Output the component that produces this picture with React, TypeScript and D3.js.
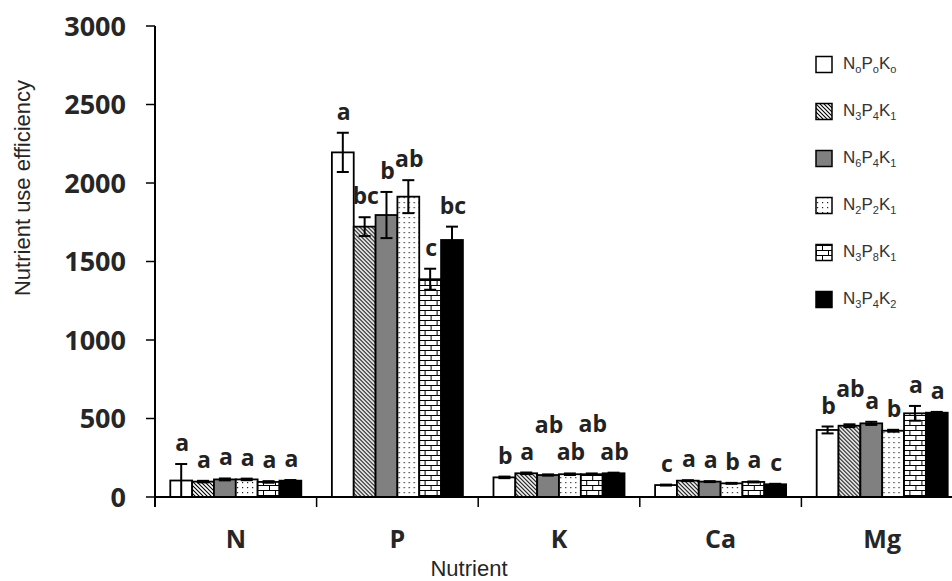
import React from 'react';
import * as d3 from 'd3';

const categories = ['N', 'P', 'K', 'Ca', 'Mg'];
const seriesKeys = ['N0P0K0', 'N3P4K1', 'N6P4K1', 'N2P2K1', 'N3P8K1', 'N3P4K2'];
const seriesLabels: [string, string][][] = [
  [['N', 'o'], ['P', 'o'], ['K', 'o']],
  [['N', '3'], ['P', '4'], ['K', '1']],
  [['N', '6'], ['P', '4'], ['K', '1']],
  [['N', '2'], ['P', '2'], ['K', '1']],
  [['N', '3'], ['P', '8'], ['K', '1']],
  [['N', '3'], ['P', '4'], ['K', '2']],
];
// mean values per category, in series order
const meanN = [105, 98, 112, 112, 96, 104];
const meanP = [2195, 1722, 1796, 1913, 1387, 1637];
const meanK = [125, 151, 140, 145, 145, 151];
const meanCa = [76, 104, 98, 87, 96, 81];
const meanMg = [427, 454, 469, 422, 533, 537];
// standard errors
const errN = [105, 5, 6, 5, 5, 4];
const errP = [125, 60, 147, 105, 67, 85];
const errK = [5, 5, 4, 5, 5, 4];
const errCa = [3, 3, 3, 3, 3, 3];
const errMg = [22, 9, 10, 6, 47, 5];
// significance letters
const letN = ['a', 'a', 'a', 'a', 'a', 'a'];
const letP = ['a', 'bc', 'b', 'ab', 'c', 'bc'];
const letK = ['b', 'a', 'ab', 'ab', 'ab', 'ab'];
const letCa = ['c', 'a', 'a', 'b', 'a', 'c'];
const letMg = ['b', 'ab', 'a', 'b', 'a', 'a'];
// stacking level of letters (to avoid collisions)
const lvlN = [0, 0, 0, 0, 0, 0];
const lvlP = [0, 0, 0, 0, 0, 0];
const lvlK = [0, 0, 1, 0, 1, 0];
const lvlCa = [0, 0, 0, 0, 0, 0];
const lvlMg = [0, 0.5, 0, 0, 0, 0];
const yTicks = [0, 500, 1000, 1500, 2000, 2500, 3000];

const means = [meanN, meanP, meanK, meanCa, meanMg];
const errs = [errN, errP, errK, errCa, errMg];
const lets = [letN, letP, letK, letCa, letMg];
const lvls = [lvlN, lvlP, lvlK, lvlCa, lvlMg];

const fills = [
  '#ffffff',
  'url(#hatch)',
  '#808080',
  'url(#dots)',
  'url(#brick)',
  '#000000',
];

const W = 952;
const H = 581;
const left = 155;
const top = 26;
const bottom = 497;

export default function App() {
  const x0 = d3.scaleBand<string>().domain(categories).range([left, 963]);
  const x1 = d3
    .scaleBand<string>()
    .domain(seriesKeys)
    .range([0, x0.bandwidth()])
    .paddingInner(0)
    .paddingOuter(0.7);
  const y = d3.scaleLinear().domain([0, 3000]).range([bottom, top]);
  const bw = x1.bandwidth();
  const boundaries = [...categories.map((c) => x0(c)!), x0(categories[4])! + x0.bandwidth()];

  const legendY0 = 64.5;
  const legendStep = 47;

  return (
    <svg
      width={W}
      height={H}
      style={{ position: 'absolute', left: 0, top: 0, background: '#fff' }}
    >
      <defs>
        <pattern id="hatch" patternUnits="userSpaceOnUse" width={4} height={4}>
          <rect width={4} height={4} fill="#fff" />
          <path d="M-1,-1 L5,5 M3,-1 L5,1 M-1,3 L1,5" stroke="#000" strokeWidth={1.1} />
        </pattern>
        <pattern id="dots" patternUnits="userSpaceOnUse" width={5} height={5}>
          <rect width={5} height={5} fill="#fff" />
          <rect x={2} y={2} width={1.2} height={1.2} fill="#222" />
        </pattern>
        <pattern id="brick" patternUnits="userSpaceOnUse" width={12} height={10}>
          <rect width={12} height={10} fill="#fff" />
          <path
            d="M0,0.5 H12 M0,5.5 H12 M0.5,0 V5.5 M6.5,5.5 V10"
            stroke="#000"
            strokeWidth={1}
            fill="none"
          />
        </pattern>
      </defs>

      {/* bars */}
      {categories.map((c, ci) => (
        <g key={c} transform={`translate(${x0(c)},0)`}>
          {seriesKeys.map((s, si) => {
            const v = means[ci][si];
            const e = errs[ci][si];
            const bx = x1(s)!;
            const cx = bx + bw / 2;
            const yTop = y(v + e);
            const yBot = y(Math.max(0, v - e));
            return (
              <g key={s}>
                <rect
                  x={bx}
                  y={y(v)}
                  width={bw}
                  height={bottom - y(v)}
                  fill={fills[si]}
                  stroke="#000"
                  strokeWidth={1.8}
                />
                <line x1={cx} x2={cx} y1={yTop} y2={yBot} stroke="#000" strokeWidth={2} />
                <line x1={cx - 6} x2={cx + 6} y1={yTop} y2={yTop} stroke="#000" strokeWidth={2} />
                <line x1={cx - 6} x2={cx + 6} y1={yBot} y2={yBot} stroke="#000" strokeWidth={2} />
                <text
                  x={cx + 1}
                  y={yTop - 13 - lvls[ci][si] * 28}
                  textAnchor="middle"
                  fontFamily="'Open Sans', sans-serif"
                  fontWeight="bold"
                  fontSize={23}
                  fill="#222"
                >
                  {lets[ci][si]}
                </text>
              </g>
            );
          })}
        </g>
      ))}

      {/* y axis */}
      <line x1={left} x2={left} y1={top} y2={bottom + 10} stroke="#000" strokeWidth={2} />
      {yTicks.map((t) => (
        <g key={t}>
          <line x1={left - 9} x2={left} y1={y(t)} y2={y(t)} stroke="#000" strokeWidth={1.5} />
          <text
            x={126}
            y={y(t)}
            dy="0.36em"
            textAnchor="end"
            fontFamily="'Open Sans', sans-serif"
            fontWeight="bold"
            fontSize={27}
            fill="#262626"
          >
            {t}
          </text>
        </g>
      ))}

      {/* x axis */}
      <line x1={left - 1} x2={W} y1={bottom} y2={bottom} stroke="#000" strokeWidth={2} />
      {boundaries.map((bx, i) => (
        <line key={i} x1={bx} x2={bx} y1={bottom} y2={bottom + 10} stroke="#000" strokeWidth={1.5} />
      ))}
      {categories.map((c) => (
        <text
          key={c}
          x={x0(c)! + x0.bandwidth() / 2}
          y={548}
          textAnchor="middle"
          fontFamily="'Open Sans', sans-serif"
          fontWeight="bold"
          fontSize={25}
          fill="#262626"
        >
          {c}
        </text>
      ))}

      {/* axis titles */}
      <text
        x={469}
        y={576}
        textAnchor="middle"
        fontFamily="'Liberation Sans', Arial, sans-serif"
        fontSize={22}
        fill="#262626"
      >
        Nutrient
      </text>
      <text
        transform={`translate(30,${188}) rotate(-90)`}
        textAnchor="middle"
        fontFamily="'Liberation Sans', Arial, sans-serif"
        fontSize={22}
        fill="#262626"
      >
        Nutrient use efficiency
      </text>

      {/* legend */}
      {seriesKeys.map((s, si) => {
        const cy = legendY0 + si * legendStep;
        return (
          <g key={s}>
            <rect
              x={816}
              y={cy - 8}
              width={16}
              height={16}
              fill={fills[si]}
              stroke="#000"
              strokeWidth={1.5}
            />
            <text
              x={843}
              y={cy + 4}
              fontFamily="'Liberation Sans', Arial, sans-serif"
              fontSize={17}
              fill="#333"
            >
              {seriesLabels[si].map(([m, sub], k) => (
                <React.Fragment key={k}>
                  <tspan dy={k === 0 ? 0 : -4.5}>{m}</tspan>
                  <tspan fontSize={11} dy={4.5}>
                    {sub}
                  </tspan>
                </React.Fragment>
              ))}
            </text>
          </g>
        );
      })}
    </svg>
  );
}
